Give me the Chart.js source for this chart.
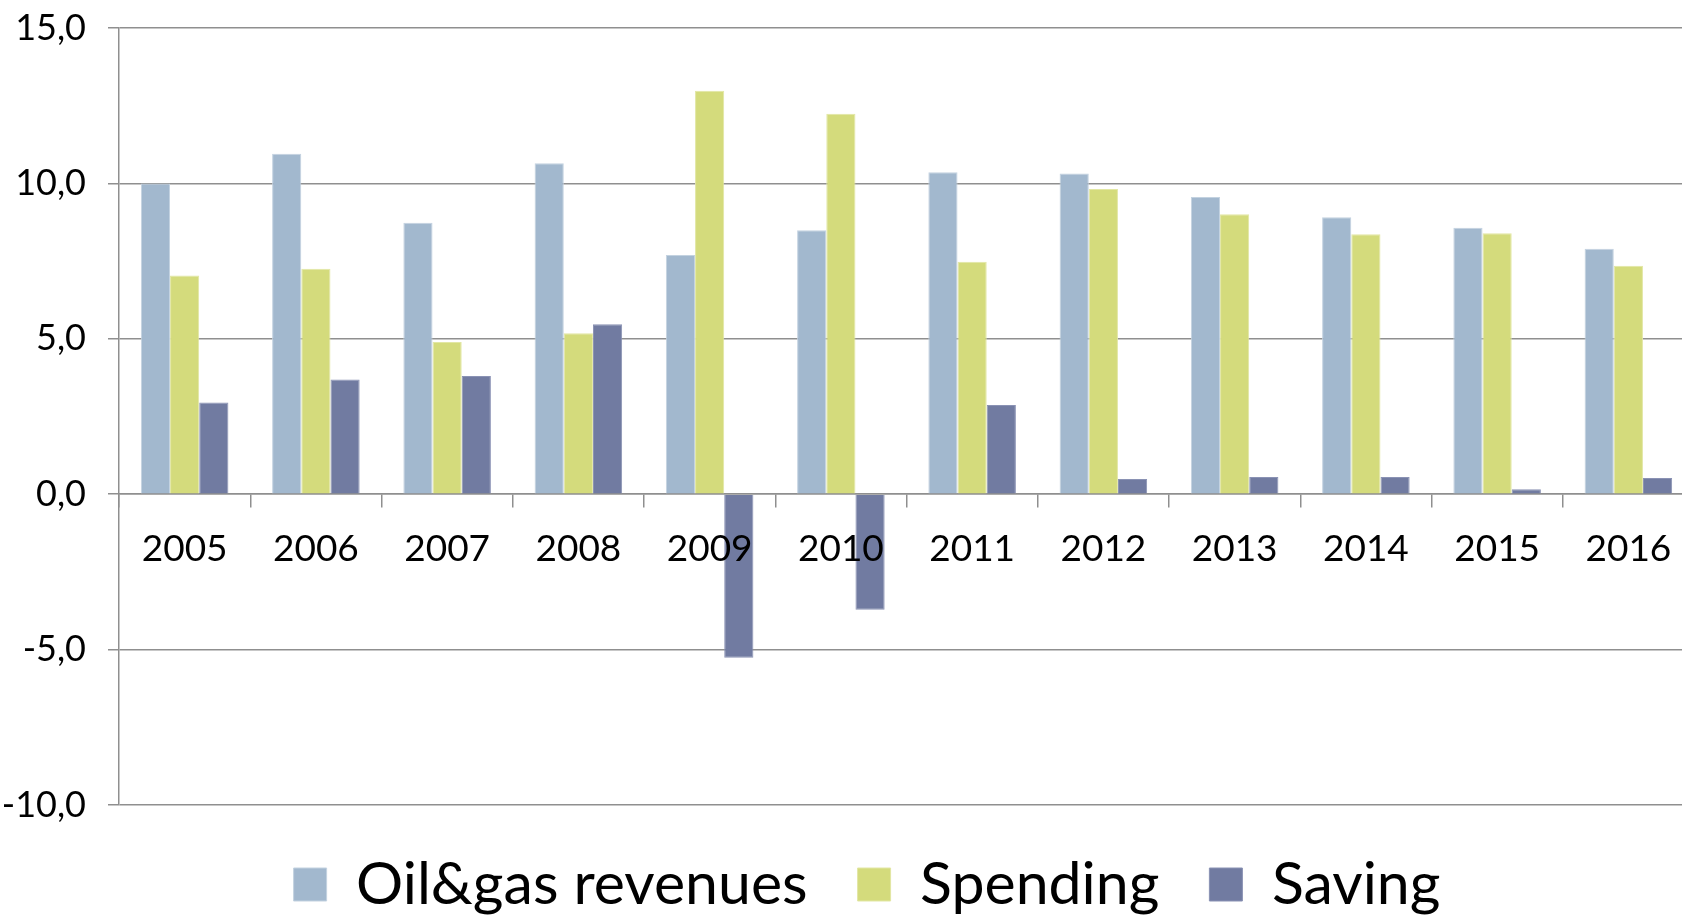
<!DOCTYPE html>
<html>
<head>
    <meta charset="utf-8">
    <title>Oil&amp;gas revenues, spending and saving</title>
    <style>
        html, body { margin: 0; padding: 0; overflow: hidden; background: #fff; }
        #wrap { position: absolute; left: 0; top: 0; width: 1694px; height: 917px; }
    </style>
</head>
<body>
    <div id="wrap"><canvas id="myChart"></canvas></div>

    <script src="https://cdn.jsdelivr.net/npm/chart.js@4/dist/chart.umd.min.js"></script>
    <script>
        // values
        var years = ["2005", "2006", "2007", "2008", "2009", "2010", "2011", "2012", "2013", "2014", "2015", "2016"];
        var oilGas = [10.0, 10.95, 8.73, 10.65, 7.70, 8.49, 10.36, 10.32, 9.56, 8.91, 8.57, 7.90];
        var spending = [7.04, 7.25, 4.90, 5.18, 12.98, 12.24, 7.48, 9.82, 9.01, 8.36, 8.40, 7.35];
        var saving = [2.95, 3.69, 3.80, 5.47, -5.26, -3.72, 2.87, 0.49, 0.55, 0.55, 0.16, 0.52];

        var gray = '#8f8f8f';
        var font = 'Lato';

        // legend sits a little right of the canvas centre in the original
        var legendShift = {
            id: 'legendShift',
            afterLayout: function(c) {
                c.legend.left += 20;
                c.legend.right += 20;
            }
        };

        var ctx = document.getElementById('myChart').getContext('2d');
        var chart = new Chart(ctx, {
            type: 'bar',
            data: {
                labels: years,
                datasets: [{
                    label: "Oil&gas revenues",
                    data: oilGas,
                    backgroundColor: '#a2b8ce',
                    borderColor: '#c3d2e0',
                    borderWidth: 1
                }, {
                    label: "Spending",
                    data: spending,
                    backgroundColor: '#d4db7c',
                    borderColor: '#e2e7a4',
                    borderWidth: 1
                }, {
                    label: "Saving",
                    data: saving,
                    backgroundColor: '#717ba1',
                    borderColor: '#8a92b4',
                    borderWidth: 1
                }]
            },
            plugins: [legendShift],
            options: {
                responsive: true,
                maintainAspectRatio: false,
                animation: false,
                layout: { padding: { top: 28, left: 0, right: 0, bottom: 0 } },
                datasets: {
                    bar: { categoryPercentage: 0.667, barPercentage: 1.0 }
                },
                scales: {
                    x: {
                        position: { y: 0 },
                        grid: {
                            drawOnChartArea: false,
                            drawTicks: true,
                            tickLength: 13,
                            color: gray,
                            lineWidth: 1.5
                        },
                        border: { color: gray, width: 1.5 },
                        ticks: {
                            z: 1,
                            color: '#000',
                            padding: 20,
                            maxRotation: 0,
                            font: { family: font, size: 37 }
                        }
                    },
                    y: {
                        min: -10,
                        max: 15,
                        afterFit: function(scale) { scale.width = 119; },
                        grid: {
                            color: gray,
                            lineWidth: 1.5,
                            tickLength: 11
                        },
                        border: { color: gray, width: 1.5 },
                        ticks: {
                            stepSize: 5,
                            color: '#000',
                            padding: 22,
                            font: { family: font, size: 36, lineHeight: 0.3 },
                            callback: function(v) { return v.toFixed(1).replace('.', ','); }
                        }
                    }
                },
                plugins: {
                    tooltip: { enabled: false },
                    legend: {
                        position: 'bottom',
                        maxHeight: 112,
                        labels: {
                            color: '#000',
                            boxWidth: 33,
                            boxHeight: 33,
                            padding: 50,
                            font: { family: font, size: 59 }
                        }
                    }
                }
            }
        });
    </script>
</body>
</html>
